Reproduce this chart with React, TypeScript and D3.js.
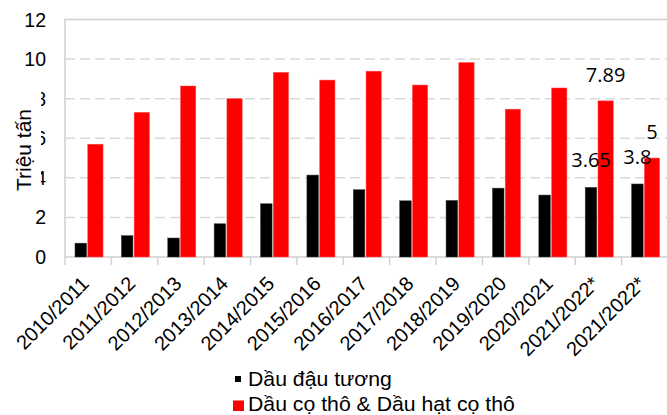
import React, { useEffect, useRef } from "react";
import * as d3 from "d3";

const categories = [
  "2010/2011",
  "2011/2012",
  "2012/2013",
  "2013/2014",
  "2014/2015",
  "2015/2016",
  "2016/2017",
  "2017/2018",
  "2018/2019",
  "2019/2020",
  "2020/2021",
  "2021/2022*",
  "2021/2022*",
];
const soybeanOil = [0.7, 1.08, 0.96, 1.68, 2.69, 4.14, 3.4, 2.84, 2.86, 3.48, 3.13, 3.52, 3.69];
const palmOil = [5.7, 7.31, 8.64, 8.0, 9.33, 8.94, 9.39, 8.69, 9.83, 7.47, 8.54, 7.89, 5];
// labels typed on the last two groups only
const soybeanLabels = ["", "", "", "", "", "", "", "", "", "", "", "3.65", "3.8"];
const palmLabels = ["", "", "", "", "", "", "", "", "", "", "", "7.89", "5"];
const yTicks = [0, 2, 4, 6, 8, 10, 12];
const seriesNames = ["Dầu đậu tương", "Dầu cọ thô & Dầu hạt cọ thô"];

const W = 667;
const H = 415;
const FONT = "'Liberation Sans', Arial, sans-serif";

const App = () => {
  const svgRef = useRef(null);

  useEffect(() => {
    const svg = d3.select(svgRef.current);
    svg.selectAll("*").remove();

    const left = 65,
      right = 668,
      top = 19.5,
      bottom = 257;

    const x = d3
      .scaleBand()
      .domain(categories.map((_, i) => String(i)))
      .range([left, right])
      .padding(0);
    const y = d3.scaleLinear().domain([0, 12]).range([bottom, top]);
    const bw = x.bandwidth();

    // dashed gridlines
    svg
      .append("g")
      .selectAll("line")
      .data(yTicks.filter((t) => t > 0 && t < 12))
      .join("line")
      .attr("x1", left)
      .attr("x2", W)
      .attr("y1", (d) => y(d))
      .attr("y2", (d) => y(d))
      .attr("stroke", "#d9d9d9")
      .attr("stroke-width", 1.5)
      .attr("stroke-dasharray", "10,5");

    // plot border (top + left + bottom)
    svg
      .append("path")
      .attr("d", `M${W},${y(12)}H${left}V${bottom}H${W}`)
      .attr("fill", "none")
      .attr("stroke", "#d0d0d0")
      .attr("stroke-width", 1.5);

    // x tick marks at band edges
    svg
      .append("g")
      .selectAll("line")
      .data(categories.map((_, i) => i))
      .join("line")
      .attr("x1", (i) => x(String(i)))
      .attr("x2", (i) => x(String(i)))
      .attr("y1", bottom)
      .attr("y2", bottom + 8)
      .attr("stroke", "#d0d0d0")
      .attr("stroke-width", 1.5);

    // bars
    const g = svg.append("g");
    g.selectAll("rect.soy")
      .data(soybeanOil)
      .join("rect")
      .attr("class", "soy")
      .attr("x", (_, i) => x(String(i)) + bw * 0.215)
      .attr("width", bw * 0.25)
      .attr("y", (d) => y(d))
      .attr("height", (d) => bottom - y(d))
      .attr("fill", "#000")
      .attr("stroke", "#444")
      .attr("stroke-width", 0.5);
    g.selectAll("rect.palm")
      .data(palmOil)
      .join("rect")
      .attr("class", "palm")
      .attr("x", (_, i) => x(String(i)) + bw * 0.49)
      .attr("width", bw * 0.33)
      .attr("y", (d) => y(d))
      .attr("height", (d) => bottom - y(d))
      .attr("fill", "#ff0000")
      .attr("stroke", "#ff5a5a")
      .attr("stroke-width", 0.5);

    // data labels
    const labelStyle = (sel) =>
      sel
        .attr("text-anchor", "middle")
        .attr("font-family", "'Open Sans', sans-serif")
        .attr("font-size", 20)
        .attr("fill", "#000");
    g.selectAll("text.soyl")
      .data(soybeanLabels)
      .join("text")
      .attr("class", "soyl")
      .attr("x", (_, i) => x(String(i)) + bw * 0.34)
      .attr("y", (_, i) => y(soybeanOil[i]) - 20)
      .text((d) => d)
      .call(labelStyle);
    g.selectAll("text.palml")
      .data(palmLabels)
      .join("text")
      .attr("class", "palml")
      .attr("x", (_, i) => x(String(i)) + bw * 0.655)
      .attr("y", (_, i) => y(palmOil[i]) - 19)
      .text((d) => d)
      .call(labelStyle);

    // y tick labels
    svg
      .append("g")
      .selectAll("text")
      .data(yTicks)
      .join("text")
      .attr("x", 46)
      .attr("y", (d) => y(d))
      .attr("dy", "0.36em")
      .attr("text-anchor", "end")
      .attr("font-family", FONT)
      .attr("font-size", 19.5)
      .attr("fill", "#000")
      .text((d) => d);

    // y title with white box over tick labels
    svg
      .append("rect")
      .attr("x", 8)
      .attr("y", 90)
      .attr("width", 33)
      .attr("height", 106)
      .attr("fill", "#fff");
    svg
      .append("text")
      .attr("transform", "translate(31,150) rotate(-90)")
      .attr("text-anchor", "middle")
      .attr("font-family", FONT)
      .attr("font-size", 21)
      .attr("fill", "#000")
      .text("Triệu tấn");

    // x labels
    svg
      .append("g")
      .selectAll("text")
      .data(categories)
      .join("text")
      .attr("transform", (_, i) => `translate(${x(String(i)) + bw / 2 + 2},285) rotate(-45)`)
      .attr("text-anchor", "end")
      .attr("font-family", FONT)
      .attr("font-size", 20)
      .attr("fill", "#000")
      .text((d) => d);

    // legend
    const leg = svg.append("g");
    leg.append("rect").attr("x", 235).attr("y", 376).attr("width", 6).attr("height", 6).attr("fill", "#000");
    leg.append("rect").attr("x", 233).attr("y", 400.5).attr("width", 11).attr("height", 10.5).attr("fill", "#ff0000");
    leg
      .selectAll("text")
      .data(seriesNames)
      .join("text")
      .attr("transform", (_, i) => `translate(248,${386 + i * 25}) scale(1.09,1)`)
      .attr("font-family", FONT)
      .attr("font-size", 19.5)
      .attr("fill", "#000")
      .text((d) => d);
  }, []);

  return (
    <svg
      ref={svgRef}
      width={W}
      height={H}
      style={{ position: "absolute", left: 0, top: 0, background: "#fff" }}
    ></svg>
  );
};

export default App;
